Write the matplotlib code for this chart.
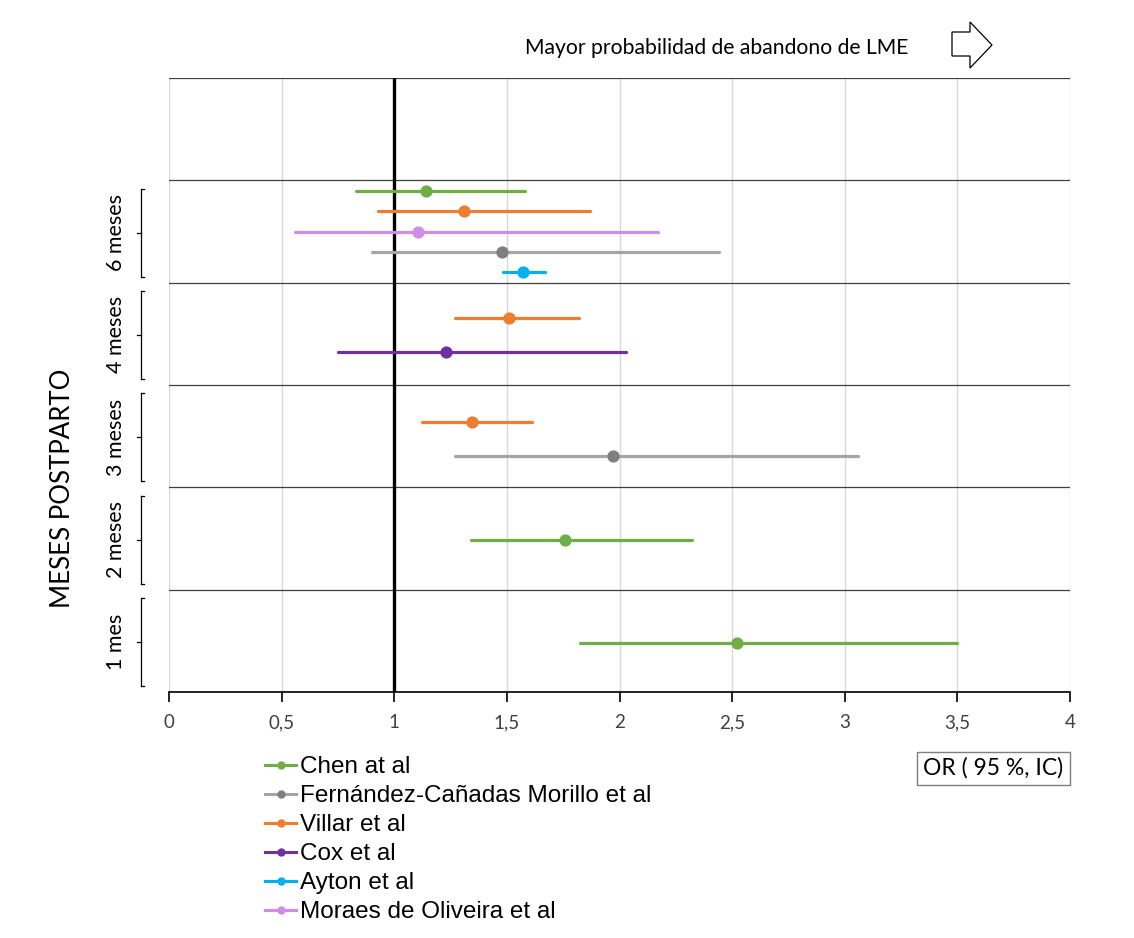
import matplotlib
matplotlib.use("Agg")
import matplotlib.pyplot as plt
from matplotlib.lines import Line2D
from matplotlib.patches import Polygon, Rectangle
import matplotlib.transforms as mtransforms

# ---- data (OR, 95% CI) ----
months = ["1 mes", "2 meses", "3 meses", "4 meses", "6 meses"]

series_names = ["Chen at al", "Fernández-Cañadas Morillo et al", "Villar et al",
                "Cox et al", "Ayton et al", "Moraes de Oliveira et al"]
series_colors = ["#70AD47", "#A5A5A5", "#ED7D31", "#7030A0", "#00B0F0", "#D08CE6"]
marker_colors = ["#70AD47", "#7F7F7F", "#ED7D31", "#7030A0", "#00B0F0", "#D08CE6"]

# y value of each point in the original scatter (band = month)
chen_month = ["6 meses", "2 meses", "1 mes"]
chen_y = [4.9, 1.49, 0.48]
chen_or = [1.14, 1.76, 2.52]
chen_lo = [0.83, 1.34, 1.825]
chen_hi = [1.58, 2.32, 3.50]

fern_month = ["6 meses", "3 meses"]
fern_y = [4.3, 2.31]
fern_or = [1.48, 1.97]
fern_lo = [0.90, 1.27]
fern_hi = [2.44, 3.06]

villar_month = ["6 meses", "4 meses", "3 meses"]
villar_y = [4.7, 3.65, 2.64]
villar_or = [1.31, 1.51, 1.345]
villar_lo = [0.93, 1.27, 1.125]
villar_hi = [1.87, 1.82, 1.61]

cox_month = ["4 meses"]
cox_y = [3.32]
cox_or = [1.23]
cox_lo = [0.75]
cox_hi = [2.03]

ayton_month = ["6 meses"]
ayton_y = [4.1]
ayton_or = [1.57]
ayton_lo = [1.485]
ayton_hi = [1.67]

moraes_month = ["6 meses"]
moraes_y = [4.5]
moraes_or = [1.105]
moraes_lo = [0.56]
moraes_hi = [2.17]

all_series = [
    (chen_y, chen_or, chen_lo, chen_hi),
    (fern_y, fern_or, fern_lo, fern_hi),
    (villar_y, villar_or, villar_lo, villar_hi),
    (cox_y, cox_or, cox_lo, cox_hi),
    (ayton_y, ayton_or, ayton_lo, ayton_hi),
    (moraes_y, moraes_or, moraes_lo, moraes_hi),
]

calibri = ["Lato", "DejaVu Sans"]
arial = ["Liberation Sans", "DejaVu Sans"]

W, H = 1134, 938
fig = plt.figure(figsize=(W / 100, H / 100), dpi=100)
ax = fig.add_axes([169 / W, 1 - 692 / H, (1070 - 169) / W, (692 - 78) / H])

ax.set_xlim(0, 4)
ax.set_ylim(0, 6)

# grid
for gx in [0.5 * i for i in range(9)]:
    ax.axvline(gx, color="#D9D9D9", lw=1.0, zorder=0)
for gy in range(7):
    ax.axhline(gy, color="#404040", lw=0.9, zorder=1)
ax.axvline(1, color="black", lw=2.4, zorder=2)

for (ys, ors, los, his), lc, mc in zip(all_series, series_colors, marker_colors):
    for y, o, lo, hi in zip(ys, ors, los, his):
        ax.plot([lo, hi], [y, y], color=lc, lw=2.3, solid_capstyle="round", zorder=3)
        ax.plot([o], [y], "o", color=mc, ms=7.8, zorder=4)

# axes styling
for s in ["left", "right", "top"]:
    ax.spines[s].set_visible(False)
ax.spines["bottom"].set_color("black")
ax.spines["bottom"].set_linewidth(1.2)
ax.set_yticks([])
ax.set_xticks([0.5 * i for i in range(9)])
ax.set_xticklabels([("%g" % (0.5 * i)).replace(".", ",") for i in range(9)],
                   family=calibri, fontsize=13.5, color="#404040")
ax.tick_params(axis="x", direction="out", length=7, width=1.2, pad=9)

# month labels with brackets
trans = mtransforms.blended_transform_factory(fig.transFigure, ax.transData)
bx = 141 / W
for i, m in enumerate(months):
    y0, y1 = i + 0.06, i + 0.92
    yc = (y0 + y1) / 2
    fig.add_artist(Line2D([bx, bx], [y0, y1], transform=trans, color="black", lw=0.9))
    fig.add_artist(Line2D([bx, bx + 3 / W], [y0, y0], transform=trans, color="black", lw=0.9))
    fig.add_artist(Line2D([bx, bx + 3 / W], [y1, y1], transform=trans, color="black", lw=0.9))
    fig.add_artist(Line2D([bx - 4 / W, bx], [yc, yc], transform=trans, color="black", lw=0.9))
    fig.text(116 / W, yc, m, transform=trans, rotation=90, ha="center", va="center",
             family=calibri, fontsize=15.5, color="black")

fig.text(62 / W, 1 - 488 / H, "MESES POSTPARTO", rotation=90, ha="center", va="center",
         family=calibri, fontsize=18.6, color="black")

# top annotation and arrow
fig.text(717 / W, 1 - 48 / H, "Mayor probabilidad de abandono de LME", ha="center",
         va="center", family=calibri, fontsize=15.2, color="black")
arrow_px = [(952, 32), (970, 32), (970, 22), (992, 45), (970, 68), (970, 56), (952, 56)]
fig.add_artist(Polygon([(x / W, 1 - y / H) for x, y in arrow_px], closed=True,
                       transform=fig.transFigure, facecolor="white", edgecolor="black", lw=0.9))

# OR box
fig.add_artist(Rectangle((917 / W, 1 - 785 / H), (1070 - 917) / W, 33 / H,
                         transform=fig.transFigure, facecolor="white", edgecolor="#7F7F7F", lw=1.0))
fig.text(993 / W, 1 - 768 / H, "OR ( 95 %, IC)", ha="center", va="center",
         family=calibri, fontsize=16.5, color="black")

# legend
handles = [Line2D([0], [0], color=c, lw=2.2, marker="o", ms=5, markerfacecolor=mc,
                  markeredgecolor=mc) for c, mc in zip(series_colors, marker_colors)]
leg = fig.legend(handles, series_names, loc="upper left",
                 bbox_to_anchor=(265 / W, 1 - 756 / H), frameon=False,
                 prop={"family": arial, "size": 17.5}, handlelength=1.28,
                 handletextpad=0.16, labelspacing=0.29, borderaxespad=0, borderpad=0)

fig.savefig("out.png", dpi=100)
